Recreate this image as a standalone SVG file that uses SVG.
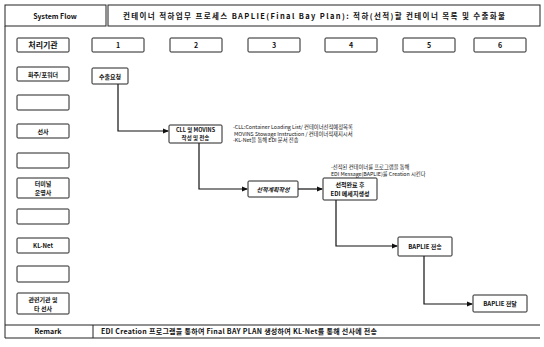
<svg xmlns="http://www.w3.org/2000/svg" width="544" height="347" viewBox="0 0 544 347">
<style>
.b{fill:#fff;stroke:#222;stroke-width:1}
.t{font-family:"Noto Sans CJK KR","Liberation Sans",sans-serif;font-weight:bold;fill:#111;text-anchor:middle}
.s{font-size:7px}
.a{font-family:"Noto Sans CJK KR","Liberation Sans",sans-serif;font-size:5.3px;fill:#111}
.c{fill:none;stroke:#111;stroke-width:1.2}
</style>
<defs>
<marker id="ar" markerWidth="6" markerHeight="6" refX="5" refY="3" orient="auto" markerUnits="userSpaceOnUse">
<path d="M0,0.5 L6,3 L0,5.5 Z" fill="#111"/>
</marker>
</defs>
<rect width="544" height="347" fill="#fff"/>
<g id="frame">
<rect class="b" x="5" y="5" width="101" height="21"/>
<text class="t s" x="55" y="18.5">System Flow</text>
<rect class="b" x="108" y="5" width="432" height="21"/>
<text class="t" x="123" y="18.5" font-size="7.5" style="text-anchor:start" textLength="382" lengthAdjust="spacing">컨테이너 적하업무 프로세스 BAPLIE(Final Bay Plan): 적하(선적)할 컨테이너 목록 및 수출화물</text>
<line x1="5" y1="26" x2="5" y2="338" stroke="#222" stroke-width="1"/>
<line x1="5" y1="325" x2="540" y2="325" stroke="#222" stroke-width="1"/>
<line x1="5" y1="338" x2="540" y2="338" stroke="#222" stroke-width="1"/>
<line x1="93" y1="325" x2="93" y2="338" stroke="#222" stroke-width="1"/>
<text class="t s" x="48" y="334">Remark</text>
<text class="t s" x="101" y="334" style="text-anchor:start" textLength="276" lengthAdjust="spacing">EDI Creation 프로그램을 통하여 Final BAY PLAN 생성하여 KL-Net를 통해 선사에 전송</text>
</g>
<g id="col-1"><rect class="b" x="92" y="38" width="52" height="14" rx="1"/><text class="t s" x="118" y="47.5">1</text></g>
<g id="col-2"><rect class="b" x="170" y="38" width="52" height="14" rx="1"/><text class="t s" x="196" y="47.5">2</text></g>
<g id="col-3"><rect class="b" x="248" y="38" width="52" height="14" rx="1"/><text class="t s" x="274" y="47.5">3</text></g>
<g id="col-4"><rect class="b" x="325" y="38" width="52" height="14" rx="1"/><text class="t s" x="351" y="47.5">4</text></g>
<g id="col-5"><rect class="b" x="403" y="38" width="52" height="14" rx="1"/><text class="t s" x="429" y="47.5">5</text></g>
<g id="col-6"><rect class="b" x="474" y="38" width="52" height="14" rx="1"/><text class="t s" x="500" y="47.5">6</text></g>
<g id="row-agency"><rect class="b" x="17" y="38" width="52" height="14" rx="1"/><text class="t" font-size="8" x="43" y="48">처리기관</text></g>
<g id="row-shipper"><rect class="b" x="17" y="67" width="52" height="14" rx="1"/><text class="t" font-size="6" x="43" y="76.5">화주/포워더</text></g>
<g id="row-empty1"><rect class="b" x="17" y="95" width="52" height="15" rx="1"/></g>
<g id="row-line"><rect class="b" x="17" y="124" width="52" height="14" rx="1"/><text class="t" font-size="6" x="43" y="133.5">선사</text></g>
<g id="row-empty2"><rect class="b" x="17" y="153" width="52" height="15" rx="1"/></g>
<g id="row-terminal"><rect class="b" x="17" y="178" width="52" height="20" rx="1"/><text class="t" font-size="6" x="43" y="186">터미널</text><text class="t" font-size="6" x="43" y="194.5">운영사</text></g>
<g id="row-empty3"><rect class="b" x="17" y="209" width="52" height="15" rx="1"/></g>
<g id="row-klnet"><rect class="b" x="17" y="238" width="52" height="15" rx="1"/><text class="t" font-size="6" x="43" y="247.5">KL-Net</text></g>
<g id="row-empty4"><rect class="b" x="17" y="266" width="52" height="16" rx="1"/></g>
<g id="row-others"><rect class="b" x="17" y="293" width="52" height="21" rx="1"/><text class="t" font-size="6" x="43" y="302">관련기관 및</text><text class="t" font-size="6" x="43" y="310.5">타 선사</text></g>
<g id="connectors">
<path class="c" d="M118,84 V131 H168" marker-end="url(#ar)"/>
<path class="c" d="M199,143 V189 H247" marker-end="url(#ar)"/>
<path class="c" d="M298,189 H322" marker-end="url(#ar)"/>
<path class="c" d="M336,200 V246 H397" marker-end="url(#ar)"/>
<path class="c" d="M424,256 V304 H472" marker-end="url(#ar)"/>
</g>
<g id="n-request"><rect class="b" x="92" y="68" width="36" height="16" rx="1"/><text class="t" font-size="6" x="110" y="78.5">수출요청</text></g>
<g id="n-cll"><rect class="b" x="169" y="125" width="53" height="18" rx="1"/><text class="t" font-size="5.5" x="195.5" y="132">CLL 및 MOVINS</text><text class="t" font-size="5.5" x="195.5" y="140">작성 및 전송</text></g>
<g id="n-cll-note">
<text class="a" x="233" y="129">-CLL:Container Loading List/ 컨테이너선적예정목록</text>
<text class="a" x="234" y="135.5">MOVINS Stowage Instruction / 컨테이너적재지시서</text>
<text class="a" x="233" y="142">-KL-Net을 통해 EDI 문서 전송</text>
</g>
<g id="n-plan"><rect class="b" x="248" y="181" width="50" height="16" rx="1"/><text class="t" font-size="6" font-style="italic" x="273" y="191.5">선적계획작성</text></g>
<g id="n-edi"><rect class="b" x="323" y="178" width="54" height="22" rx="1"/><text class="t" font-size="6" x="350" y="187">선적완료 후</text><text class="t" font-size="6" x="350" y="196">EDI 메세지생성</text></g>
<g id="n-edi-note">
<text class="a" x="331" y="169">-선적된 컨테이너를 프로그램을 통해</text>
<text class="a" x="331" y="175.5">EDI Message(BAPLIE)를 Creation 시킨다</text>
</g>
<g id="n-send"><rect class="b" x="398" y="237" width="54" height="19" rx="1"/><text class="t" font-size="6" x="425" y="249">BAPLIE 전송</text></g>
<g id="n-deliver"><rect class="b" x="473" y="295" width="54" height="17" rx="1"/><text class="t" font-size="6" x="500" y="306">BAPLIE 전달</text></g>
</svg>
